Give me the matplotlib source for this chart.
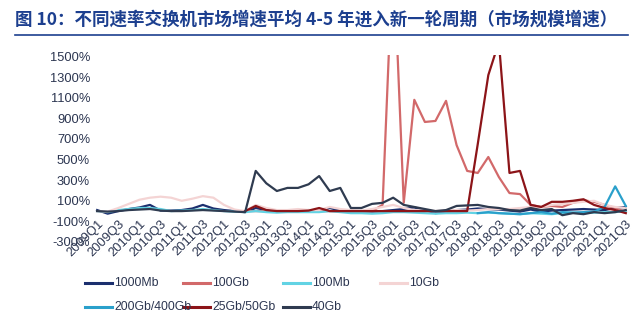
import numpy as np
import matplotlib.pyplot as plt
from matplotlib.lines import Line2D

plt.rcParams['font.family'] = ['Liberation Sans', 'DejaVu Sans']

# quarters 2009Q1 .. 2021Q3
quarters = [f"{y}Q{q}" for y in range(2009, 2022) for q in range(1, 5)][:51]
nan = np.nan

# market size growth, %
mb1000 = [10, -25, 0, 20, 35, 60, 5, 5, 10, 25, 60, 25, 10, 0, -10, 30, 10, 0, 5, 5,
          10, 5, 30, 5, 0, 0, -5, 0, 10, 20, 35, 10, -20, -10, 10, 15, 25, 20, 15, 5,
          -5, 15, -5, 5, 10, 15, 20, 15, 10, 30, 40]
gb100 = [nan] * 14 + [0, 0, 0, 0, 0, 0, 0, 0, 0, 0, 0, 0, 0, 60, 2550, 80, 1080, 865, 875, 1070,
                      640, 390, 370, 525, 330, 175, 165, 60, 40, 50, 40, 80, 105, 90, 60, 30, -10]
mb100 = [0, -10, 10, 20, 30, 30, 20, 0, 5, 10, 20, 10, 0, -5, -10, 0, -10, -15, -10, -10,
         -10, -10, 0, -10, -20, -20, -25, -20, -10, -10, -15, -20, -25, -20, -20, -15, -20, -15, -20, -25,
         -30, -20, -25, -30, -20, -15, -20, -15, -10, -10, 0]
gb10 = [0, -5, 30, 70, 110, 130, 140, 130, 100, 120, 145, 130, 60, 15, 0, 60, 30, 10, 10, 20,
        10, 10, 40, 20, 10, 5, 20, 40, 60, 30, 10, 5, 0, 5, 10, 5, 10, 20, 20, 20,
        30, 40, 40, 60, 70, 80, 90, 100, 60, 40, 30]
gb200_400 = [nan] * 36 + [-20, -10, -20, -25, -30, -20, -10, -25, -10, -15, -10, -5, 40, 240, 50]
gb25_50 = [nan] * 14 + [0, 50, 10, 0, 0, 0, 5, 30, 0, 0, 0, 0, 0, 0, 0, 0, 0, 0, 0, 0,
                        0, 0, 650, 1320, 1640, 370, 390, 60, 40, 90, 90, 100, 115, 60, 30, 10, -20]
gb40 = [0, -5, 0, 10, 15, 20, 5, 0, 0, 5, 10, 5, 0, -5, -10, 390, 270, 195, 225, 225,
        260, 340, 195, 225, 30, 30, 70, 80, 130, 60, 40, 20, 0, 10, 50, 55, 60, 40, 30, 10,
        5, 30, 10, 20, -40, -20, -30, -10, -20, -10, 10]

series = [
    ('1000Mb', mb1000, '#1b2f6e'),
    ('100Gb', gb100, '#d2696a'),
    ('100Mb', mb100, '#62d3e4'),
    ('10Gb', gb10, '#f4d4d4'),
    ('200Gb/400Gb', gb200_400, '#2aa0cb'),
    ('25Gb/50Gb', gb25_50, '#8c1418'),
    ('40Gb', gb40, '#2f3b50'),
]
txt_col = '#2b3550'

fig = plt.figure(figsize=(6.4, 3.28), dpi=100)
ax = fig.add_axes([95 / 640, 1 - 242 / 328, 535 / 640, 187 / 328])

x = np.arange(len(quarters))
# pale lines first so the dark ones sit on top
order = [3, 2, 0, 4, 6, 1, 5]
for i in order:
    name, vals, col = series[i]
    ax.plot(x, vals, color=col, lw=1.6, zorder=2 + i)

ax.set_ylim(-300, 1515)
ax.set_xlim(-0.2, 50.4)
ax.set_yticks(range(-300, 1501, 200))
ax.set_yticklabels([f"{v}%" for v in range(-300, 1501, 200)], fontsize=9.3, color=txt_col)
# category axis crosses at 0, labels sit just under it
ax.spines['bottom'].set_position(('data', 0))
ax.set_xticks(x[::2])
ax.set_xticklabels(quarters[::2], rotation=45, ha='right', rotation_mode='anchor',
                   fontsize=9.3, color=txt_col)
ax.tick_params(length=0)
ax.tick_params(axis='x', pad=5)
for s in ax.spines.values():
    s.set_visible(False)

# legend, Excel style: equal width columns, row by row
col_x = [85, 183, 283, 380]
row_y = [283, 307]
for k, (name, _, col) in enumerate(series):
    cx = col_x[k % 4]
    cy = 1 - row_y[k // 4] / 328
    fig.add_artist(Line2D([cx / 640, (cx + 27) / 640], [cy, cy], color=col, lw=2.2))
    fig.text((cx + 29) / 640, cy, name, fontsize=8.8, color=txt_col, va='center', ha='left')

fig.text(15 / 640, 1 - 20 / 328, "图 10：不同速率交换机市场增速平均 4-5 年进入新一轮周期（市场规模增速）",
         fontsize=12.6, fontweight='bold', color='#1c3f8f', va='center',
         family=['Noto Sans CJK SC', 'DejaVu Sans'])
fig.add_artist(Line2D([15 / 640, 628 / 640], [1 - 35 / 328, 1 - 35 / 328], color='#1c3f8f', lw=1.2))

fig.savefig('out.png', dpi=100, facecolor='white')
